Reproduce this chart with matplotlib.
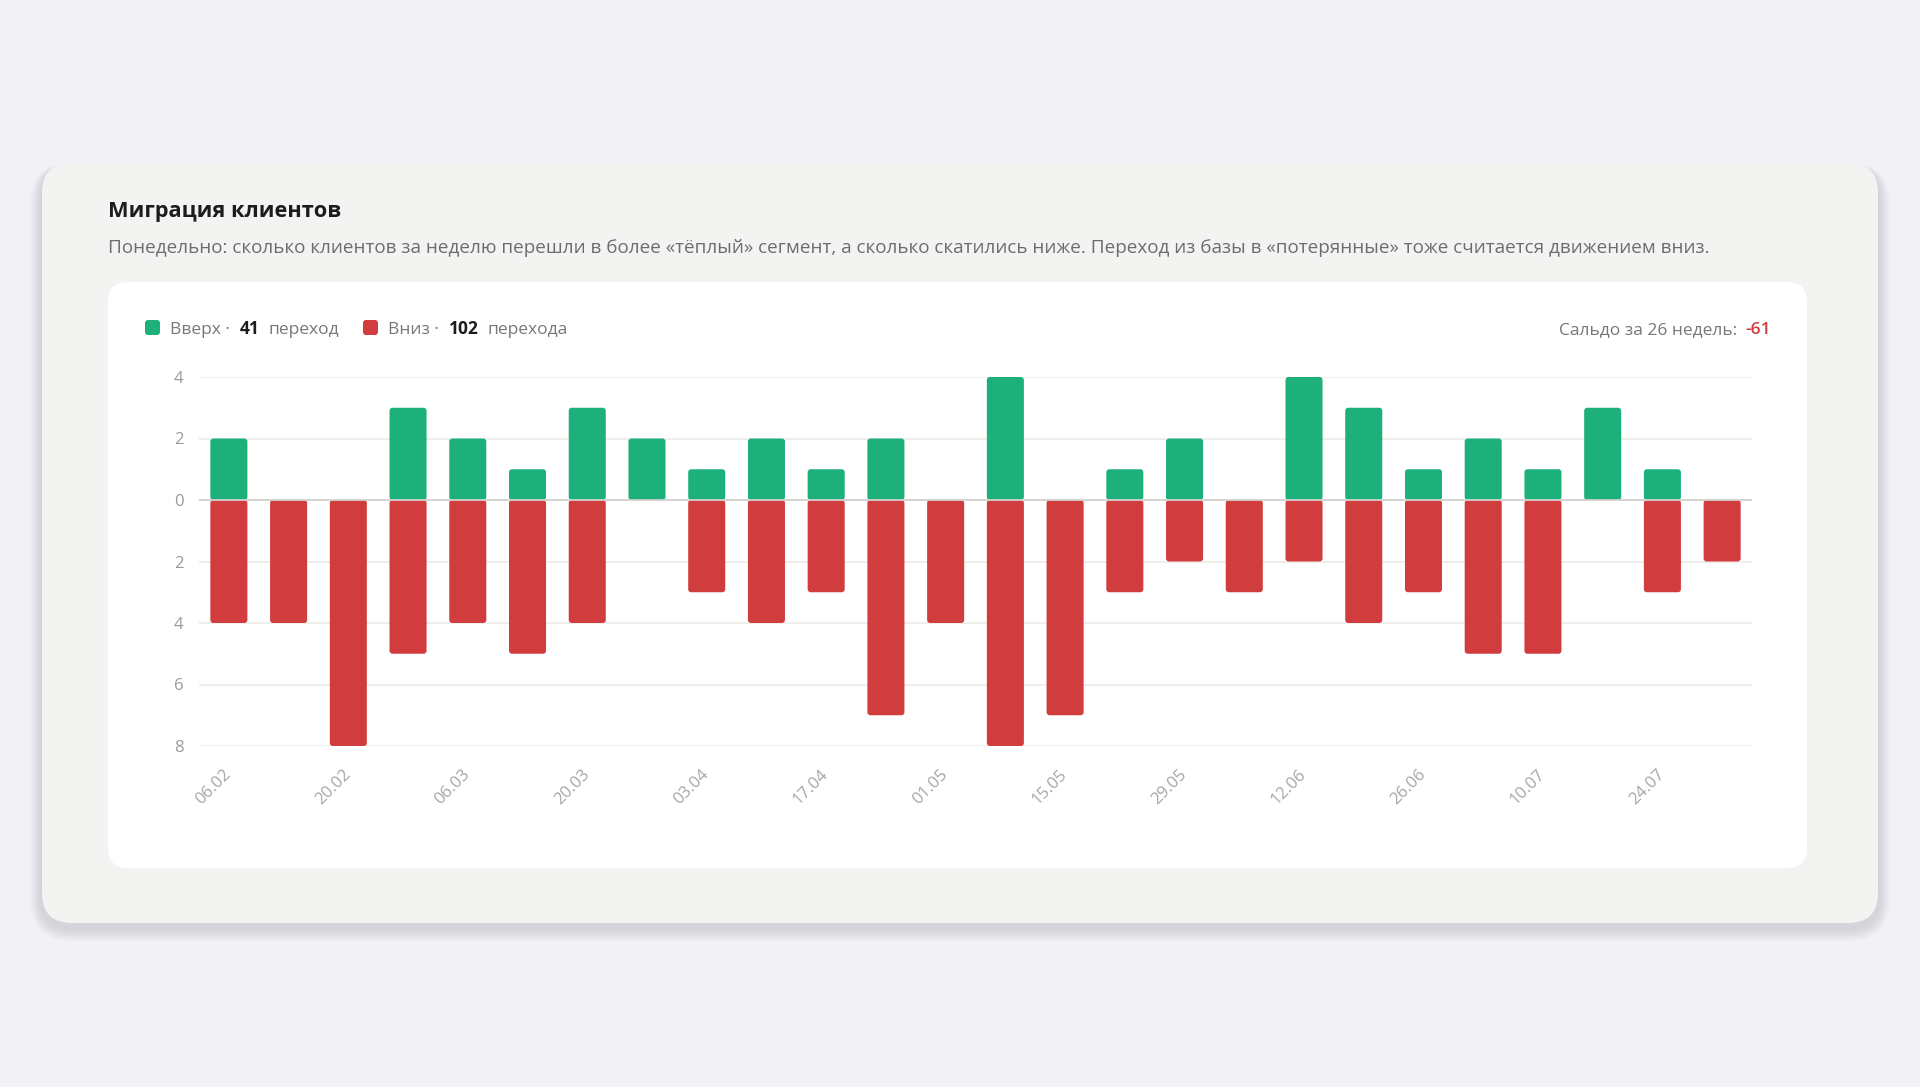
import matplotlib
matplotlib.use('Agg')
import matplotlib.pyplot as plt
from matplotlib.patches import FancyBboxPatch

plt.rcParams['font.family'] = ['Open Sans', 'DejaVu Sans']

# ── Data ─────────────────────────────────────────────────────────────────────
weeks = ['06.02', '13.02', '20.02', '27.02', '06.03', '13.03', '20.03', '27.03',
         '03.04', '10.04', '17.04', '24.04', '01.05', '08.05', '15.05', '22.05',
         '29.05', '05.06', '12.06', '19.06', '26.06', '03.07', '10.07', '17.07',
         '24.07', '31.07']
up   = [2, 0, 0, 3, 2, 1, 3, 2, 1, 2, 1, 2, 0, 4, 0, 1, 2, 0, 4, 3, 1, 2, 1, 3, 1, 0]
down = [4, 4, 8, 5, 4, 5, 4, 0, 3, 4, 3, 7, 4, 8, 7, 3, 2, 3, 2, 4, 3, 5, 5, 0, 3, 2]
y_ticks  = [4, 2, 0, -2, -4, -6, -8]
y_labels = ['4', '2', '0', '2', '4', '6', '8']

TITLE    = 'Миграция клиентов'
SUBTITLE = ('Понедельно: сколько клиентов за неделю перешли в более «тёплый» сегмент, '
            'а сколько скатились ниже. Переход из базы в «потерянные» тоже считается '
            'движением вниз.')

GREEN = '#1db07b'
RED   = '#d13c3e'

# ── Canvas ───────────────────────────────────────────────────────────────────
W, H = 1920, 1087
fig = plt.figure(figsize=(W / 100, H / 100), dpi=100)
fig.patch.set_facecolor('#f1f1f6')

bg = fig.add_axes([0, 0, 1, 1])
bg.set_xlim(0, W)
bg.set_ylim(H, 0)
bg.axis('off')

# card shadow
for s in range(1, 18):
    bg.add_patch(FancyBboxPatch((42 - s * 0.7, 163 + 5 - s * 0.3), 1836 + s * 1.4, 760 + s * 1.1,
                                boxstyle=f'round,pad=0,rounding_size={30 + s * 0.6}',
                                fc='#5a5a62', ec='none', alpha=0.009))
# card and inner panel
bg.add_patch(FancyBboxPatch((42, 163), 1836, 760, boxstyle='round,pad=0,rounding_size=30',
                            fc='#f3f3f1', ec='none'))
bg.add_patch(FancyBboxPatch((108, 282), 1699, 586, boxstyle='round,pad=0,rounding_size=20',
                            fc='white', ec='none'))

bg.text(108, 217, TITLE, fontsize=15.7, fontweight='bold', color='#1c1c1c', va='baseline')
bg.text(108, 253, SUBTITLE, fontsize=13.6, color='#6d6d6d', va='baseline')

# ── Legend line ──────────────────────────────────────────────────────────────
rend = fig.canvas.get_renderer()
LEG_Y = 334

def put(x, s, **kw):
    t = bg.text(x, LEG_Y, s, va='baseline', fontsize=12.5, **kw)
    return x + t.get_window_extent(renderer=rend).width

def legend_item(x, color, name, count, word):
    bg.add_patch(FancyBboxPatch((x, 320), 15, 15, boxstyle='round,pad=0,rounding_size=3',
                                fc=color, ec='none'))
    x = put(x + 25, name + ' ·', color='#777777')
    x = put(x + 10, str(count), color='#1c1c1c', fontweight='bold')
    put(x + 9, word, color='#777777')

legend_item(145, GREEN, 'Вверх', sum(up), 'переход')
legend_item(363, RED, 'Вниз', sum(down), 'перехода')

saldo = sum(up) - sum(down)
t = bg.text(1771, LEG_Y, f'{saldo}', ha='right', va='baseline', fontsize=12.5,
            color=RED, fontweight='semibold')
xr = 1771 - t.get_window_extent(renderer=rend).width - 8
bg.text(xr, LEG_Y, f'Сальдо за {len(weeks)} недель:', ha='right', va='baseline',
        fontsize=12.5, color='#777777')

# ── Chart ────────────────────────────────────────────────────────────────────
ax = fig.add_axes([199 / W, 1 - 746 / H, 1553 / W, 369 / H])
ax.patch.set_alpha(0)
x = list(range(len(weeks)))
ax.set_xlim(-0.5, len(weeks) - 0.5)
ax.set_ylim(-8, 4)

bars_up = ax.bar(x, up, width=0.62, color=GREEN, zorder=2)
bars_dn = ax.bar(x, [-d for d in down], width=0.62, color=RED, zorder=2)

# swap the plain rectangles for slightly rounded ones
bb = ax.get_position()
px_x = (len(weeks)) / (bb.width * W)
px_y = 12 / (bb.height * H)
for b in list(bars_up) + list(bars_dn):
    bx, by = b.get_xy()
    bw, bh = b.get_width(), b.get_height()
    b.remove()
    if bh == 0:
        continue
    if bh < 0:
        by, bh = by + bh, -bh
    ax.add_patch(FancyBboxPatch((bx, by), bw, bh,
                                boxstyle=f'round,pad=0,rounding_size={3 * px_x}',
                                mutation_aspect=px_y / px_x, fc=b.get_facecolor(),
                                ec='none', zorder=2))

ax.set_yticks(y_ticks)
ax.set_yticklabels(y_labels)
ax.yaxis.grid(True, color='#ece9e3', linewidth=1.1, zorder=0)
ax.set_axisbelow(True)
ax.axhline(0, color='#d3d2cf', linewidth=1.3, zorder=3)
for sp in ax.spines.values():
    sp.set_visible(False)

ax.set_xticks(x[::2])
ax.set_xticklabels(weeks[::2], rotation=45, ha='right', va='center',
                   rotation_mode='anchor')
ax.tick_params(axis='x', length=0, pad=19, labelsize=12, labelcolor='#a6a6a6')
ax.tick_params(axis='y', length=0, pad=11, labelsize=12, labelcolor='#9a9a9a')

fig.savefig('out.png', dpi=100, facecolor=fig.get_facecolor())
